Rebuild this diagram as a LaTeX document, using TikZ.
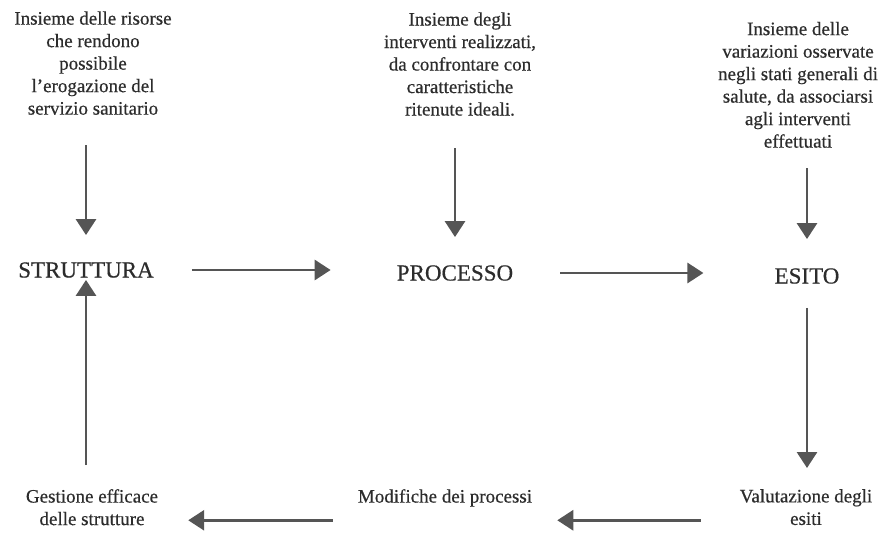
\documentclass[tikz,border=0pt]{standalone}
\usepackage{fontspec}
\setmainfont{Liberation Serif}[FakeBold=0.5]
\usetikzlibrary{arrows.meta}
\definecolor{txt}{HTML}{2C2C2C}
\definecolor{arrc}{HTML}{555555}
\tikzset{
  desc/.style={align=center, inner sep=0pt, text=txt, font=\fontsize{19}{22.5}\selectfont},
  mainlbl/.style={inner sep=0pt, text=txt, font=\fontsize{23}{26}\selectfont},
  arr/.style={draw=arrc, line width=2.9pt, -{Triangle[width=20pt,length=16pt]}, arrc}
}
\begin{document}
\begin{tikzpicture}[x=1pt,y=-1pt]
\useasboundingbox (0,0) rectangle (883,535);
% top descriptions
\node[desc, anchor=south] (t1) at (93,115) {Insieme delle risorse\\che rendono\\possibile\\l'erogazione del\\servizio sanitario};
\node[desc, anchor=south] (t2) at (460,116) {Insieme degli\\interventi realizzati,\\da confrontare con\\caratteristiche\\ritenute ideali.};
\node[desc, anchor=south] (t3) at (798,148) {Insieme delle\\variazioni osservate\\negli stati generali di\\salute, da associarsi\\agli interventi\\effettuati};
% main labels
\node[mainlbl] (s) at (86,270) {STRUTTURA};
\node[mainlbl] (p) at (455,273) {PROCESSO};
\node[mainlbl] (e) at (807,276) {ESITO};
% bottom labels
\node[desc, anchor=north] (v) at (806,489) {Valutazione degli\\esiti};
\node[desc, anchor=north] (m) at (445,489) {Modifiche dei processi};
\node[desc, anchor=north] (g) at (92,489) {Gestione efficace\\delle strutture};
% connectors
\draw[arr, shorten <=30pt, shorten >=27pt] (s.north |- t1.south) -- (s.north);
\draw[arr, shorten <=32pt, shorten >=28pt] (p.north |- t2.south) -- (p.north);
\draw[arr, shorten <=20pt, shorten >=29pt] (e.north |- t3.south) -- (e.north);
\draw[arr, shorten <=38pt, shorten >=66pt] (s.east) -- (s.east -| p.west);
\draw[arr, shorten <=47pt, shorten >=71pt] (p.east) -- (p.east -| e.west);
\draw[arr, shorten <=24pt, shorten >=21pt] (e.south) -- (e.south |- v.north);
\draw[arr, shorten <=39pt, shorten >=25pt] ([yshift=5pt]v.south west) -- ([yshift=5pt]v.south west -| m.east);
\draw[arr, shorten <=25pt, shorten >=30pt] ([yshift=5pt]v.south west -| m.west) -- ([yshift=5pt]v.south west -| g.east);
\draw[arr, shorten <=24pt, shorten >=2pt] (s.south |- g.north) -- (s.south);
\end{tikzpicture}
\end{document}
